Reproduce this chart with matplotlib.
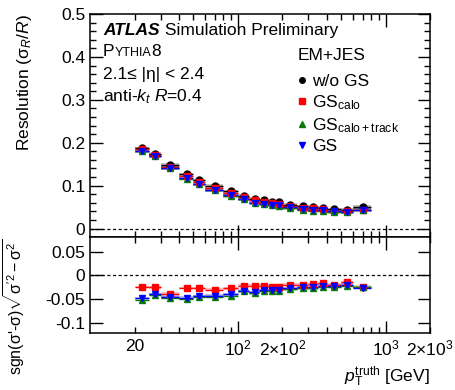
import numpy as np
import matplotlib
matplotlib.use("Agg")
import matplotlib.pyplot as plt
from matplotlib.lines import Line2D
from matplotlib.ticker import FixedLocator, MultipleLocator, FuncFormatter, NullFormatter

plt.rcParams['font.family'] = ['Liberation Sans', 'DejaVu Sans']
plt.rcParams['mathtext.fontset'] = 'custom'
plt.rcParams['mathtext.rm'] = 'Liberation Sans'
plt.rcParams['mathtext.it'] = 'Liberation Sans:italic'
plt.rcParams['mathtext.bf'] = 'Liberation Sans:bold'

# pT bins [GeV]
bin_edges = [20, 25, 30, 40, 50, 60, 80, 100, 120, 140, 160, 180, 200, 250, 300, 350, 400, 500, 600, 800]

# resolution sigma_R/R
res_nogs = [0.187, 0.174, 0.148, 0.126, 0.112, 0.099, 0.087, 0.076, 0.070, 0.066,
            0.063, 0.062, 0.056, 0.052, 0.050, 0.048, 0.045, 0.044, 0.050]
res_calo = [0.1855, 0.172, 0.143, 0.123, 0.109, 0.094, 0.083, 0.073, 0.067, 0.062,
            0.059, 0.057, 0.0525, 0.048, 0.047, 0.045, 0.041, 0.042, 0.044]
res_track = [0.180, 0.169, 0.141, 0.116, 0.103, 0.089, 0.076, 0.0685, 0.059, 0.057,
             0.054, 0.053, 0.048, 0.044, 0.042, 0.042, 0.038, 0.038, 0.044]
res_gs = [0.181, 0.1695, 0.141, 0.117, 0.103, 0.0895, 0.078, 0.069, 0.0605, 0.058,
          0.055, 0.054, 0.0495, 0.0455, 0.043, 0.043, 0.040, 0.039, 0.043]

# sgn(s'-s) sqrt(|s'^2 - s^2|) w.r.t. w/o GS
diff_calo = [-0.024, -0.025, -0.038, -0.026, -0.026, -0.030, -0.027, -0.0215, -0.0215, -0.0215,
             -0.023, -0.025, -0.0195, -0.0195, -0.018, -0.016, -0.0195, -0.014, -0.024]
diff_track = [-0.0505, -0.040, -0.046, -0.049, -0.044, -0.044, -0.042, -0.033, -0.037, -0.033,
              -0.033, -0.032, -0.0285, -0.027, -0.027, -0.024, -0.024, -0.0215, -0.023]
diff_gs = [-0.047, -0.039, -0.044, -0.046, -0.043, -0.042, -0.039, -0.032, -0.035, -0.031,
           -0.031, -0.031, -0.026, -0.025, -0.025, -0.0215, -0.021, -0.0195, -0.026]

edges = np.array(bin_edges, dtype=float)
xc = 0.5 * (edges[:-1] + edges[1:])
xerr = [xc - edges[:-1], edges[1:] - xc]

series = [
    ("w/o GS", "black", "o", 4, res_nogs, None),
    ("GS$_{\\mathregular{calo}}$", "#ff0000", "s", 5, res_calo, diff_calo),
    ("GS$_{\\mathregular{calo+track}}$", "#0a7a0a", "^", 4.5, res_track, diff_track),
    ("GS", "#0000ff", "v", 4.5, res_gs, diff_gs),
]

fig = plt.figure(figsize=(4.55, 3.9), dpi=100)
ax1 = fig.add_axes([0.198, 0.392, 0.747, 0.572])
ax2 = fig.add_axes([0.198, 0.146, 0.747, 0.246])

fs = 12.5
handles = []
for label, col, mk, lms, top, bot in series:
    top = np.array(top)
    ax1.bar(edges[:-1], 0.008, width=np.diff(edges), bottom=top - 0.004, align='edge',
            color=col, alpha=0.25, lw=0)
    ax1.errorbar(xc, top, xerr=xerr, fmt=mk, color=col, ms=5, lw=1.0, capsize=0)
    if bot is not None:
        bot = np.array(bot)
        ax2.bar(edges[:-1], 0.006, width=np.diff(edges), bottom=bot - 0.003, align='edge',
                color=col, alpha=0.25, lw=0)
        ax2.errorbar(xc, bot, xerr=xerr, fmt=mk, color=col, ms=5, lw=1.0, capsize=0)
    handles.append(Line2D([], [], ls='none', marker=mk, color=col, ms=lms, label=label))

for ax in (ax1, ax2):
    ax.set_xscale('log')
    ax.set_xlim(10, 2000)
    ax.axhline(0, color='black', lw=0.9, ls=(0, (2.5, 2)))
    ax.xaxis.set_major_locator(FixedLocator([100, 1000]))
    minors = [m * d for d in (10, 100) for m in range(2, 10)] + [2000]
    ax.xaxis.set_minor_locator(FixedLocator(minors))
    ax.tick_params(which='both', direction='in', top=True, right=True, labelsize=fs, width=1)
    ax.tick_params(which='major', length=9)
    ax.tick_params(which='minor', length=4.5)
    for s in ax.spines.values():
        s.set_linewidth(1.1)

ax1.set_ylim(-0.02, 0.5)
ax1.yaxis.set_major_locator(MultipleLocator(0.1))
ax1.yaxis.set_minor_locator(MultipleLocator(0.02))
ax1.yaxis.set_major_formatter(FuncFormatter(lambda v, p: "0" if abs(v) < 1e-9 else f"{v:.1f}"))
ax1.xaxis.set_major_formatter(NullFormatter())
ax1.xaxis.set_minor_formatter(NullFormatter())

ax2.set_ylim(-0.12, 0.08)
ax2.yaxis.set_major_locator(MultipleLocator(0.05))
ax2.yaxis.set_minor_locator(FixedLocator([]))
ax2.yaxis.set_major_formatter(FuncFormatter(lambda v, p: "0" if abs(v) < 1e-9 else f"{v:g}"))
tick_lab = {20: "20", 100: "10$^{2}$", 200: "2$\\times$10$^{2}$", 1000: "10$^{3}$", 2000: "2$\\times$10$^{3}$"}
fmt = FuncFormatter(lambda v, p: tick_lab.get(int(round(v)), ""))
ax2.xaxis.set_major_formatter(fmt)
ax2.xaxis.set_minor_formatter(fmt)
ax2.tick_params(axis='x', which='both', pad=4)

ax1.set_ylabel("Resolution ($\\mathregular{\\sigma}_{R}$/$R$)", fontsize=fs, loc='top')
ax1.yaxis.set_label_coords(-0.165, 1.0)
ax2.set_ylabel("sgn($\\mathregular{\\sigma}$'-$\\mathregular{\\sigma}$)"
               "$\\sqrt{\\mathregular{\\sigma'^{2} - \\sigma^{2}}}$", fontsize=11.5, loc='top')
ax2.yaxis.set_label_coords(-0.185, 0.98)
ax2.set_xlabel("$p_{\\mathregular{T}}^{\\mathregular{truth}}$ [GeV]", fontsize=fs, loc='right')
ax2.xaxis.set_label_coords(1.0, -0.33)

tr = ax1.transAxes
t = ax1.text(0.038, 0.928, "ATLAS", transform=tr, fontsize=fs, fontweight='bold',
             fontstyle='italic', va='center')
ax1.annotate(" Simulation Preliminary", xy=(1, 0.5), xycoords=t, fontsize=fs, va='center')
p = ax1.text(0.038, 0.81, "P", transform=tr, fontsize=fs, va='baseline')
y1 = ax1.annotate("YTHIA", xy=(1, 0), xycoords=p, fontsize=fs * 0.72, va='bottom')
ax1.annotate("8", xy=(1, 0), xycoords=y1, fontsize=fs, va='bottom')
ax1.text(0.038, 0.731, "2.1≤ |η| < 2.4", transform=tr, fontsize=fs, va='center')
ax1.text(0.038, 0.628, "anti-$k_{t}$ $R$=0.4", transform=tr, fontsize=fs, va='center')

ax1.text(0.612, 0.816, "EM+JES", transform=tr, fontsize=fs, va='center')
leg = ax1.legend(handles=handles, loc='upper left', bbox_to_anchor=(0.585, 0.772),
                 frameon=False, fontsize=fs, handlelength=0.5,
                 handletextpad=0.35, labelspacing=0.25, borderpad=0)

fig.savefig("out.png", dpi=100)
